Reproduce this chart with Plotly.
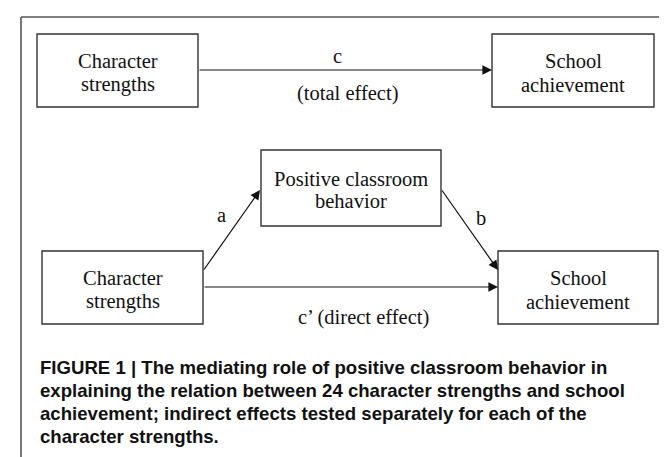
import plotly.graph_objects as go

# ---- diagram content ----
node_names = ["cs_top", "sa_top", "pcb", "cs_bot", "sa_bot"]
node_lines = [
    ["Character", "strengths"],
    ["School", "achievement"],
    ["Positive classroom", "behavior"],
    ["Character", "strengths"],
    ["School", "achievement"],
]
edge_from = ["cs_top", "cs_bot", "pcb", "cs_bot"]
edge_to = ["sa_top", "pcb", "sa_bot", "sa_bot"]
edge_labels = ["c", "a", "b", ""]
extra_labels = ["(total effect)", "c\u2019 (direct effect)"]
caption_lines = [
    "FIGURE 1 | The mediating role of positive classroom behavior in",
    "explaining the relation between 24 character strengths and school",
    "achievement; indirect effects tested separately for each of the",
    "character strengths.",
]

# ---- geometry (pixel coordinates, y downwards) ----
W, H = 667, 457
box = {
    "cs_top": (29, 26, 190, 99),
    "sa_top": (484, 26, 646, 99),
    "pcb": (253, 142, 433, 218),
    "cs_bot": (34, 243, 195, 316),
    "sa_bot": (490, 243, 650, 316),
}
line_gap = {"cs_top": 24, "sa_top": 24, "pcb": 22, "cs_bot": 24, "sa_bot": 24}
edge_geom = [
    ((190, 62), (484, 62), (329, 48)),
    ((195, 263), (252, 182), (213, 207)),
    ((433, 181), (490, 262), (473, 210)),
    ((195, 279), (490, 279), None),
]
extra_pos = [(340, 85), (355, 309)]
caption_x, caption_y0, caption_dy = 30, 359, 23

serif = "Liberation Serif, Times New Roman, serif"
sans = "Liberation Sans, Arial, sans-serif"

fig = go.Figure()
shapes = []
annotations = []

# outer frame (open at the bottom, runs past the image edge)
frame_col = "#555555"
for (x0, y0, x1, y1) in [(13, 9, 665, 9), (13, 9, 13, H + 5), (665, 9, 665, H + 5)]:
    shapes.append(dict(type="line", xref="x", yref="y", x0=x0, y0=y0, x1=x1, y1=y1,
                       line=dict(color=frame_col, width=1.6)))

# boxes and their labels
for name, lines in zip(node_names, node_lines):
    x0, y0, x1, y1 = box[name]
    shapes.append(dict(type="rect", xref="x", yref="y", x0=x0, y0=y0, x1=x1, y1=y1,
                       line=dict(color="#333333", width=1.4), fillcolor="rgba(0,0,0,0)"))
    cx, cy = (x0 + x1) / 2, (y0 + y1) / 2
    g = line_gap[name]
    for i, t in enumerate(lines):
        annotations.append(dict(x=cx, y=cy - g / 2 + 2 + g * i, xref="x", yref="y", text=t,
                                showarrow=False, font=dict(family=serif, size=20.5, color="#111111"),
                                xanchor="center", yanchor="middle"))

# arrows and edge labels
for lab, (tail, head, lpos) in zip(edge_labels, edge_geom):
    annotations.append(dict(x=head[0], y=head[1], ax=tail[0], ay=tail[1],
                            xref="x", yref="y", axref="x", ayref="y", text="",
                            showarrow=True, arrowhead=2, arrowsize=1.6, arrowwidth=1.2,
                            arrowcolor="#111111", standoff=0, startstandoff=0))
    if lab and lpos:
        annotations.append(dict(x=lpos[0], y=lpos[1], xref="x", yref="y", text=lab,
                                showarrow=False, font=dict(family=serif, size=20.5, color="#111111"),
                                xanchor="center", yanchor="middle"))

for t, (x, y) in zip(extra_labels, extra_pos):
    annotations.append(dict(x=x, y=y, xref="x", yref="y", text=t, showarrow=False,
                            font=dict(family=serif, size=20.5, color="#111111"),
                            xanchor="center", yanchor="middle"))

# caption
for i, t in enumerate(caption_lines):
    annotations.append(dict(x=caption_x, y=caption_y0 + caption_dy * i, xref="x", yref="y",
                            text="<b>" + t + "</b>", showarrow=False,
                            font=dict(family=sans, size=18.6, color="#111111"),
                            xanchor="left", yanchor="middle"))

fig.update_layout(
    width=W, height=H,
    margin=dict(l=0, r=0, t=0, b=0),
    paper_bgcolor="white", plot_bgcolor="white",
    xaxis=dict(range=[0, W], visible=False, fixedrange=True),
    yaxis=dict(range=[H, 0], visible=False, fixedrange=True),
    shapes=shapes, annotations=annotations,
    showlegend=False,
)

fig.write_html("out.html")
